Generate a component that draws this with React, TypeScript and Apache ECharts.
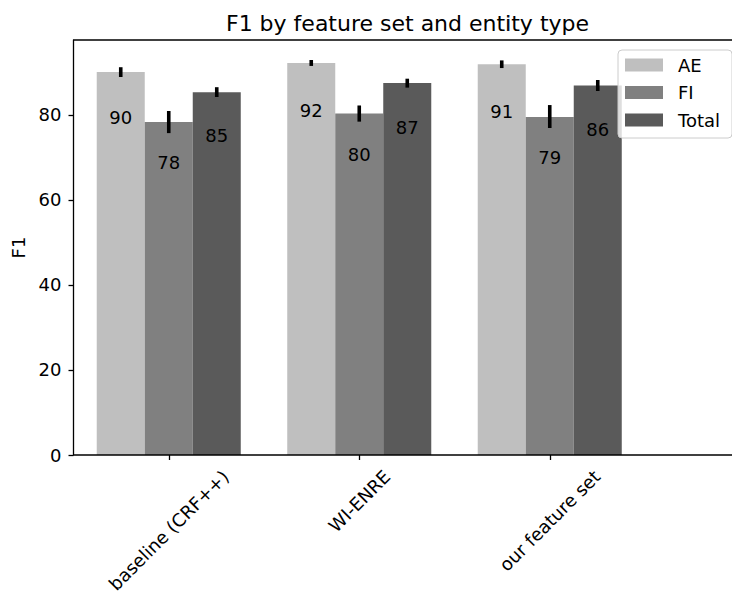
import React, { useEffect, useRef } from 'react';
import * as echarts from 'echarts';

const categories = ['baseline (CRF++)', 'WI-ENRE', 'our feature set'];
const seriesNames = ['AE', 'FI', 'Total'];
const aeValues = [90.1, 92.2, 91.9];
const fiValues = [78.3, 80.3, 79.5];
const totalValues = [85.3, 87.5, 86.9];
const aeLabels = ['90', '92', '91'];
const fiLabels = ['78', '80', '79'];
const totalLabels = ['85', '87', '86'];
const aeErrLow = [88.9, 91.5, 91.0];
const aeErrHigh = [91.2, 92.9, 92.8];
const fiErrLow = [75.7, 78.4, 76.9];
const fiErrHigh = [80.9, 82.2, 82.3];
const totalErrLow = [84.2, 86.4, 85.6];
const totalErrHigh = [86.5, 88.5, 88.2];
const yTicks = [0, 20, 40, 60, 80];
const yMax = 97.6;
const titleText = 'F1 by feature set and entity type';
const yName = 'F1';

const FONT = 'DejaVu Sans';
const colors = ['#bfbfbf', '#808080', '#5a5a5a'];
const CAT_GAP = 0.244;
const XLABEL_PAD = 11;
const XLABEL_LH = 21;

function measure(text: string, size: number): number {
  const ctx = document.createElement('canvas').getContext('2d');
  if (!ctx) return text.length * size * 0.55;
  ctx.font = `${size}px "${FONT}"`;
  return ctx.measureText(text).width;
}

export default function App() {
  const ref = useRef<HTMLDivElement>(null);

  useEffect(() => {
    document.body.style.margin = '0';
    if (!ref.current) return;
    const chart = echarts.init(ref.current, undefined, { renderer: 'svg' });

    const values = [aeValues, fiValues, totalValues];
    const labels = [aeLabels, fiLabels, totalLabels];
    const lows = [aeErrLow, fiErrLow, totalErrLow];
    const highs = [aeErrHigh, fiErrHigh, totalErrHigh];

    const errData: number[][] = [];
    for (let s = 0; s < 3; s++) {
      for (let i = 0; i < categories.length; i++) {
        errData.push([i, lows[s][i], highs[s][i], s]);
      }
    }

    const catWidths = categories.map((c) => measure(c, 18));
    const titleW = measure(titleText, 22);

    const barSeries = seriesNames.map((name, s) => ({
      name,
      type: 'bar',
      data: values[s],
      barGap: '0%',
      barCategoryGap: `${CAT_GAP * 100}%`,
      itemStyle: { color: colors[s] },
      label: {
        show: true,
        position: ['50%', '12%'],
        align: 'center',
        verticalAlign: 'middle',
        color: '#000',
        fontSize: 18,
        fontFamily: FONT,
        formatter: (p: any) => labels[s][p.dataIndex],
      },
      emphasis: { disabled: true },
      z: 2,
    }));

    const option: any = {
      animation: false,
      backgroundColor: '#fff',
      title: {
        text: titleText,
        left: 407.5 - titleW / 2,
        top: 12,
        padding: 0,
        textStyle: { fontSize: 22, fontWeight: 'normal', color: '#000', fontFamily: FONT },
      },
      legend: {
        data: seriesNames,
        orient: 'vertical',
        left: 618,
        top: 50,
        icon: 'rect',
        itemWidth: 38,
        itemHeight: 13,
        itemGap: 9.5,
        padding: [6, 12, 9, 7],
        backgroundColor: 'rgba(255,255,255,0.8)',
        borderColor: '#cccccc',
        borderWidth: 1,
        borderRadius: 4,
        textStyle: {
          fontSize: 18,
          fontFamily: FONT,
          color: '#000',
          lineHeight: 18,
          padding: [0, 0, 0, 10],
        },
        z: 20,
      },
      grid: {
        left: 73.5,
        top: 40,
        width: 571.5,
        height: 415,
        outerBoundsMode: 'none',
        containLabel: false,
      },
      xAxis: {
        type: 'category',
        data: categories,
        axisLine: { show: false },
        axisTick: { show: true, alignWithLabel: true, length: 5, lineStyle: { color: '#000', width: 1.3 } },
        axisLabel: { show: false },
        splitLine: { show: false },
      },
      yAxis: {
        type: 'value',
        min: 0,
        max: yMax,
        interval: 20,
        name: yName,
        nameLocation: 'middle',
        nameGap: 46.5,
        nameTextStyle: { fontSize: 18, fontFamily: FONT, color: '#000' },
        axisLine: { show: true, lineStyle: { color: '#000', width: 1.3 } },
        axisTick: { show: true, length: 5, lineStyle: { color: '#000', width: 1.3 }, customValues: yTicks },
        axisLabel: {
          fontSize: 18,
          fontFamily: FONT,
          color: '#000',
          margin: 12,
          customValues: yTicks,
        },
        splitLine: { show: false },
      },
      graphic: [
        { type: 'line', shape: { x1: 73.5, y1: 40, x2: 732, y2: 40 }, style: { stroke: '#000', lineWidth: 1.3 }, z: 5 },
        { type: 'line', shape: { x1: 73.5, y1: 455, x2: 732, y2: 455 }, style: { stroke: '#000', lineWidth: 1.3 }, z: 5 },
      ],
      series: [
        ...barSeries,
        {
          type: 'custom',
          name: 'err',
          data: errData,
          encode: { x: 0, y: [1, 2] },
          z: 4,
          silent: true,
          renderItem: (params: any, api: any) => {
            const cat = api.value(0);
            const lo = api.value(1);
            const hi = api.value(2);
            const k = api.value(3);
            const band = api.size([1, 0])[0];
            const barW = (band * (1 - CAT_GAP)) / 3;
            const x = api.coord([cat, 0])[0] + (k - 1) * barW;
            const p1 = api.coord([cat, lo]);
            const p2 = api.coord([cat, hi]);
            return {
              type: 'line',
              shape: { x1: x, y1: p1[1], x2: x, y2: p2[1] },
              style: { stroke: '#000', lineWidth: 3.6 },
            };
          },
        },
        {
          type: 'custom',
          name: 'xlabels',
          data: categories.map((c, i) => [i, 0]),
          encode: { x: 0, y: 1 },
          z: 6,
          silent: true,
          clip: false,
          renderItem: (params: any, api: any) => {
            const i = api.value(0);
            const p = api.coord([i, 0]);
            const L = catWidths[i];
            return {
              type: 'text',
              x: p[0],
              y: p[1] + XLABEL_PAD + (L + XLABEL_LH) * Math.SQRT1_2 / 2,
              rotation: Math.PI / 4,
              style: {
                text: categories[i],
                align: 'center',
                verticalAlign: 'middle',
                fontSize: 18,
                fontFamily: FONT,
                fill: '#000',
              },
            };
          },
        },
      ],
    };

    chart.setOption(option);
    return () => chart.dispose();
  }, []);

  return (
    <div
      ref={ref}
      style={{ position: 'absolute', left: 0, top: 0, width: 732, height: 592, background: '#fff' }}
    />
  );
}
